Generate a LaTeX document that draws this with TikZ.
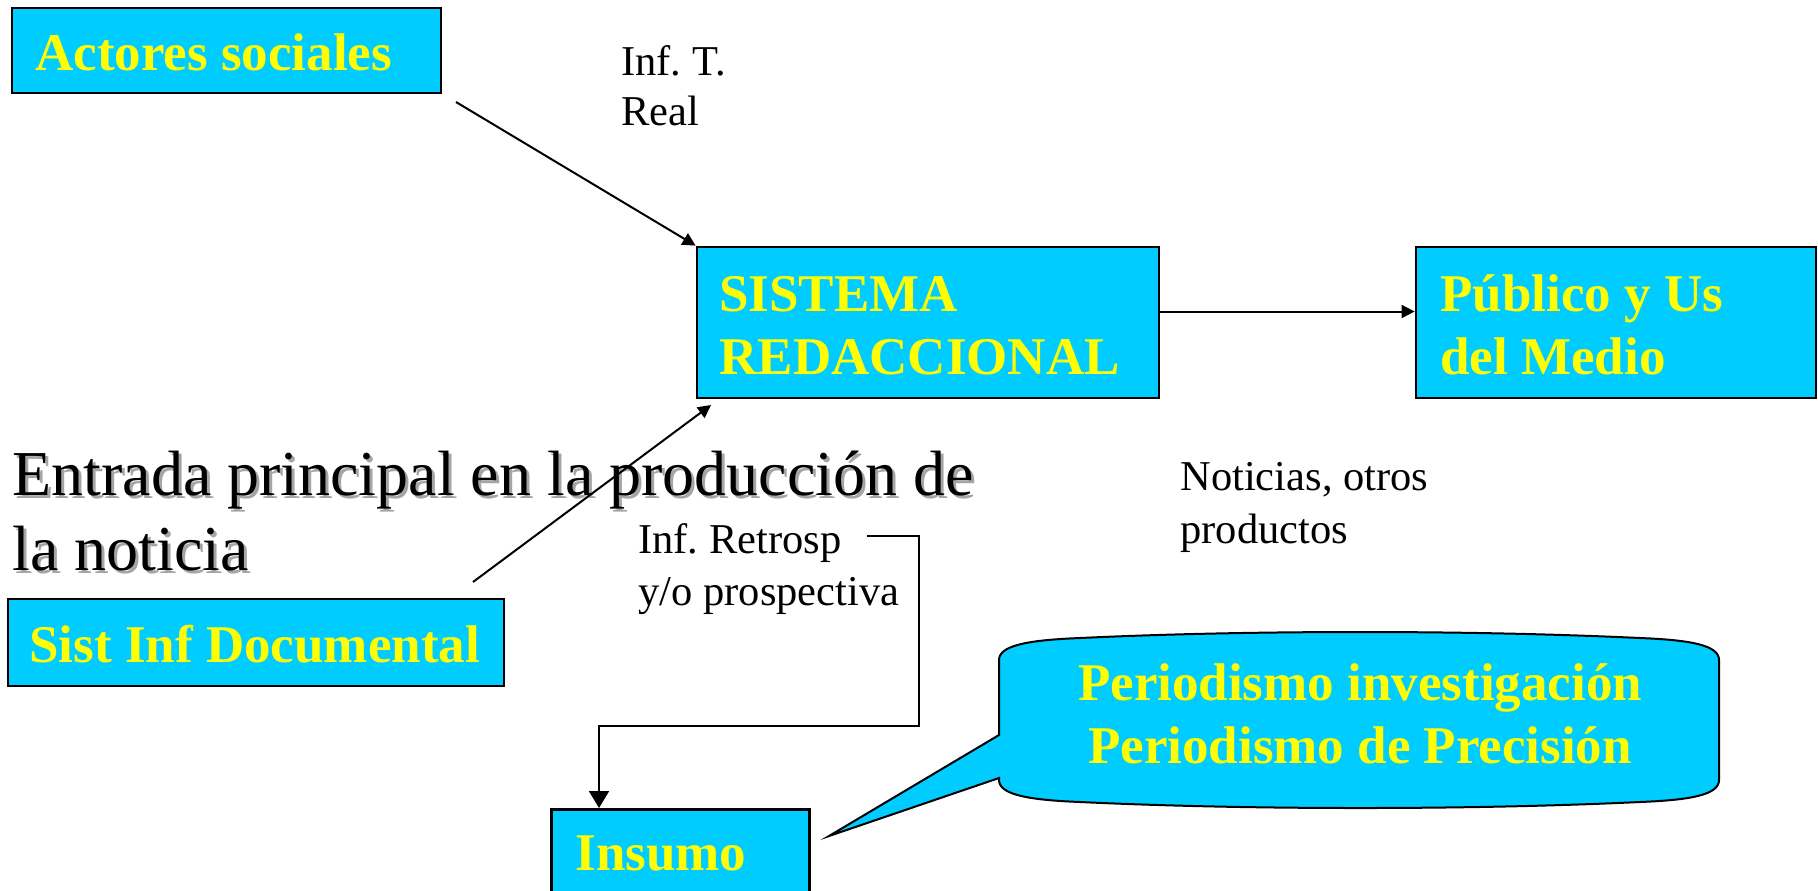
\documentclass[tikz,border=0pt]{standalone}
\usepackage{fontspec}
\setmainfont{Liberation Serif}
\usetikzlibrary{arrows.meta}
\definecolor{boxcyan}{RGB}{0,204,255}
\definecolor{boxyellow}{RGB}{255,255,0}
\definecolor{shadowgray}{RGB}{165,165,165}
\frenchspacing
\begin{document}
\begin{tikzpicture}[x=0.5pt,y=-0.5pt,
  box/.style={draw=black, line width=1.4pt, fill=boxcyan, rectangle, inner sep=0pt},
  boxtext/.style={anchor=base west, inner sep=0pt, align=left, text=boxyellow,
    font=\fontsize{26.5pt}{31.5pt}\selectfont\bfseries},
  smalltext/.style={anchor=base west, inner sep=0pt, align=left,
    font=\fontsize{21.25pt}{26pt}\selectfont},
  bigtext/.style={anchor=base west, inner sep=0pt, align=left,
    font=\fontsize{32pt}{37.5pt}\selectfont},
  conn/.style={line width=1pt, -{Triangle[length=6.5pt,width=6.5pt]}},
  connbig/.style={line width=1pt, -{Triangle[length=8.5pt,width=10pt]}},
]
\useasboundingbox (0,0) rectangle (1818,890);
\clip (0,0) rectangle (1818,890);

% boxes
\node[box, minimum width=214.5pt, minimum height=42.5pt] (actores) at (226.5,50.5) {};
\node[box, minimum width=231pt, minimum height=75.5pt] (sistema) at (928,322.5) {};
\node[box, minimum width=200pt, minimum height=75.5pt] (publico) at (1616,322.5) {};
\node[box, minimum width=248pt, minimum height=43.5pt] (sistinf) at (256,642.5) {};
\node[box, minimum width=129pt, minimum height=70pt, anchor=north west] (insumo) at (550,808) {};

% callout
\coordinate (tip) at (829,836);
\filldraw[fill=boxcyan, draw=black, line width=1pt]
  (999,660) -- (999,735) -- (tip) -- (999,778) -- (999,780)
  .. controls (999,795) and (1030,800) .. (1080,802)
  .. controls (1250,810) and (1470,810) .. (1640,802)
  .. controls (1690,800) and (1719,795) .. (1719,780)
  -- (1719,660)
  .. controls (1719,645) and (1690,640) .. (1640,638)
  .. controls (1470,630) and (1250,630) .. (1080,638)
  .. controls (1030,640) and (999,645) .. (999,660) -- cycle;

% box texts (base anchor = baseline of the last line)
\node[boxtext] (actoresT) at (35,70) {Actores sociales};
\node[boxtext] (sistemaT) at (719,374) {SISTEMA\\REDACCIONAL};
\node[boxtext] (publicoT) at (1440,374) {Público y Us\\del Medio};
\node[boxtext] (sistinfT) at (29,662) {Sist Inf Documental};
\node[boxtext] (insumoT) at (575,870) {Insumo};
\node[boxtext, anchor=base, align=center] (calloutT) at (1360,763) {Periodismo investigación\\Periodismo de Precisión};

% free texts
\node[bigtext, text=shadowgray] (entradaS) at (15,573) {Entrada principal en la producción de\\la noticia};
\node[bigtext] (entrada) at (12,570) {Entrada principal en la producción de\\la noticia};
\node[smalltext, font=\fontsize{21.25pt}{25pt}\selectfont] (inft) at (621,125) {Inf. T.\\Real};
\node[smalltext] (infr) at (638,605) {Inf. Retrosp\\y/o prospectiva};
\node[smalltext, font=\fontsize{21.25pt}{26.5pt}\selectfont] (noticias) at (1180,543) {Noticias, otros\\productos};

% connectors
\coordinate (a1s) at (456,102);
\draw[conn] (a1s) -- (sistema.north west);
\coordinate (a2s) at (473,582);
\coordinate (a2e) at (711,405);
\draw[conn] (a2s) -- (a2e);
\draw[conn] ([yshift=5.5pt]sistema.east) -- ([yshift=5.5pt]publico.west);
\coordinate (r1) at (867,536);
\coordinate (r2) at (919,536);
\coordinate (r3) at (919,726);
\coordinate (r4) at (599,726);
\draw[connbig] (r1) -- (r2) -- (r3) -- (r4) -- (r4 |- insumo.north);
\end{tikzpicture}
\end{document}
